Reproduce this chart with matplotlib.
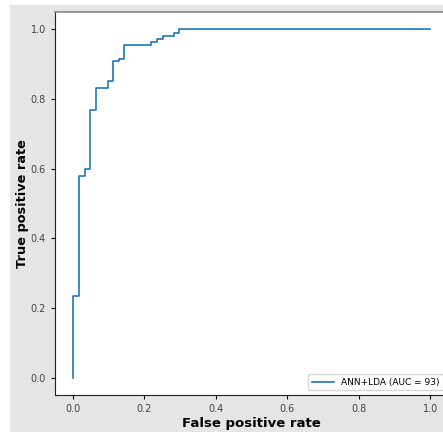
import numpy as np
import matplotlib
matplotlib.use("Agg")
import matplotlib.pyplot as plt

# ROC corner points
fpr = [0.0, 0.0, 0.018, 0.018, 0.034, 0.034, 0.049, 0.049, 0.064, 0.064,
       0.097, 0.097, 0.113, 0.113, 0.128, 0.128, 0.143, 0.143, 0.219, 0.219,
       0.235, 0.235, 0.251, 0.251, 0.283, 0.283, 0.298, 0.298, 1.0]
tpr = [0.0, 0.233, 0.233, 0.578, 0.578, 0.598, 0.598, 0.768, 0.768, 0.832,
       0.832, 0.851, 0.851, 0.908, 0.908, 0.916, 0.916, 0.955, 0.955, 0.964,
       0.964, 0.972, 0.972, 0.981, 0.981, 0.990, 0.990, 1.0, 1.0]
label = "ANN+LDA (AUC = 93)"

W, H = 443, 432
fig = plt.figure(figsize=(W / 100, H / 100), dpi=100, facecolor="white")
# gray canvas, shifted like the cropped screenshot
bg = fig.add_axes([10 / W, 0, 1, 1 - 5 / H], zorder=-10)
bg.set_facecolor("#e5e5e5")
bg.set_xticks([])
bg.set_yticks([])
for s in bg.spines.values():
    s.set_visible(False)

ax = fig.add_axes([55 / W, 37 / H, 393 / W, 383 / H])
ax.set_facecolor("white")
ax.plot(fpr, tpr, color="#1f77b4", lw=1.2, label=label)

ax.set_xticks([0.0, 0.2, 0.4, 0.6, 0.8, 1.0])
ax.set_yticks([0.0, 0.2, 0.4, 0.6, 0.8, 1.0])
ax.tick_params(labelsize=7, labelcolor="#444444", length=3, width=0.8)
ax.set_xlabel("False positive rate", fontsize=9.5, fontweight="bold", labelpad=2)
ax.set_ylabel("True positive rate", fontsize=9.3, fontweight="bold", labelpad=1)
for s in ax.spines.values():
    s.set_color("#222222")
ax.spines["top"].set_color("#888888")
ax.spines["top"].set_linewidth(1.2)

ax.legend(loc="lower right", fontsize=6.5, frameon=True, fancybox=True,
          handlelength=2.5)

fig.savefig("out.png", dpi=100, facecolor=fig.get_facecolor())
